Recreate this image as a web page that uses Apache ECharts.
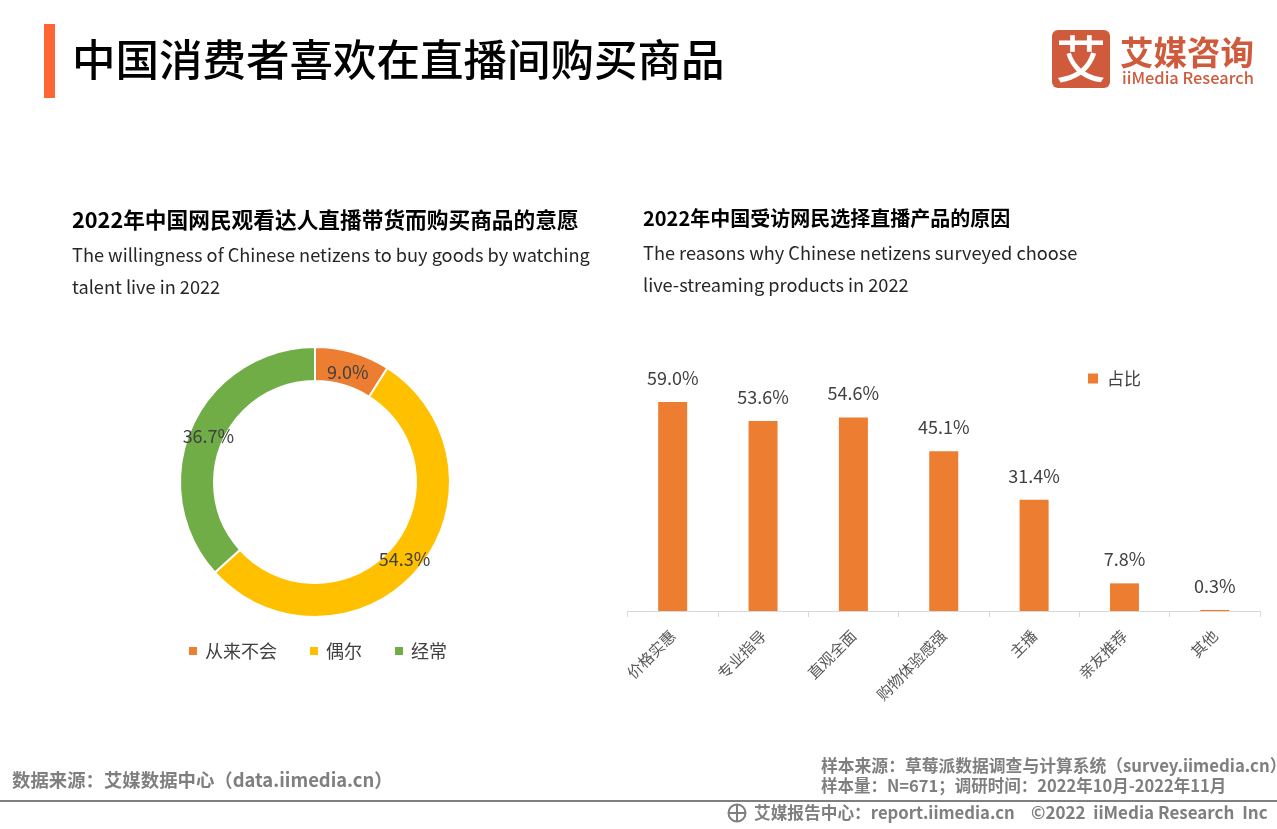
<!DOCTYPE html>
<html><head><meta charset="utf-8">
<style>html,body{margin:0;padding:0;background:#fff}#c{width:1277px;height:829px}</style>
<script src="https://cdn.jsdelivr.net/npm/echarts@6/dist/echarts.min.js"></script>
</head><body><div id="c"></div>
<script>
const pieNames = ['从来不会','偶尔','经常'];
const pieValues = [9.0,54.3,36.7];
const pieColors = ['#ED7D31','#FFC000','#70AD47'];
const barCategories = ['价格实惠','专业指导','直观全面','购物体验感强','主播','亲友推荐','其他'];
const barValues = [59.0,53.6,54.6,45.1,31.4,7.8,0.3];
const labelShift = [[-1,6],[-3,-1],[4,3]];
const F = '"Noto Sans CJK SC","Noto Sans",sans-serif';
const T = (x,y,text,size,color,weight,align) => ({type:'text',x,y,style:{text,font:(weight||'normal')+' '+size+'px '+F,fill:color||'#000',textAlign:align||'left',textVerticalAlign:'middle'}});
const chart = echarts.init(document.getElementById('c'),null,{renderer:'canvas'});
chart.setOption({
 animation:false,
 backgroundColor:'#fff',
 legend:[
  {data:pieNames,left:182,top:637,itemWidth:10,itemHeight:10,itemGap:31,icon:'rect',textStyle:{fontFamily:F,fontSize:18,color:'#404040',padding:[0,0,0,2]}},
  {data:['占比'],left:1083,top:365,itemWidth:10,itemHeight:10,icon:'rect',textStyle:{fontFamily:F,fontSize:17,color:'#404040',padding:[0,0,0,4]}}
 ],
 grid:{left:627.5,right:17,top:363,height:248,containLabel:false},
 xAxis:{type:'category',data:barCategories,
  axisLine:{lineStyle:{color:'#D9D9D9',width:1}},
  axisTick:{show:true,length:6,lineStyle:{color:'#D9D9D9'},alignWithLabel:false},
  axisLabel:{rotate:45,interval:0,margin:22,fontFamily:F,fontSize:15.2,color:'#595959'}},
 yAxis:{type:'value',min:0,max:70,show:false},
 series:[
  {type:'pie',center:[315,482],radius:[101,135],startAngle:90,clockwise:true,
   itemStyle:{borderColor:'#fff',borderWidth:2},
   label:{position:'inside',formatter:p=>p.value.toFixed(1)+'%',fontFamily:F,fontSize:18,color:'#404040'},
   labelLine:{show:false},
   labelLayout:p=>({dx:labelShift[p.dataIndex][0],dy:labelShift[p.dataIndex][1]}),
   emphasis:{disabled:true},
   data:pieNames.map((n,i)=>({name:n,value:pieValues[i],itemStyle:{color:pieColors[i]}}))},
  {type:'bar',name:'占比',data:barValues,barWidth:29,itemStyle:{color:'#ED7D31'},
   label:{show:true,position:'top',distance:15,formatter:p=>p.value.toFixed(1)+'%',fontFamily:F,fontSize:18,color:'#404040'}}
 ],
 graphic:[
  {type:'rect',shape:{x:44,y:24,width:11,height:74},style:{fill:'#FF6633'}},
  T(72,59,'中国消费者喜欢在直播间购买商品',43.5,'#000','500'),
  {type:'rect',shape:{x:1052,y:30,width:58,height:58,r:6},style:{fill:'#CF5B3C'}},
  T(1081,59,'艾',50,'#fff','500','center'),
  T(1120,52,'艾媒咨询',33.5,'#CF5B3C','bold'),
  T(1122,78,'iiMedia Research',16.4,'#CF5B3C','500'),
  T(72,220,'2022年中国网民观看达人直播带货而购买商品的意愿',21.7,'#000','bold'),
  T(72,255,'The willingness of Chinese netizens to buy goods by watching',18.2,'#262626'),
  T(72,287,'talent live in 2022',18.2,'#262626'),
  T(643,218,'2022年中国受访网民选择直播产品的原因',20,'#000','bold'),
  T(643,253,'The reasons why Chinese netizens surveyed choose',18.2,'#262626'),
  T(643,285,'live-streaming products in 2022',18.2,'#262626'),
  T(12,780,'数据来源：艾媒数据中心（data.iimedia.cn）',18.4,'#7F7F7F','bold'),
  T(821,766,'样本来源：草莓派数据调查与计算系统（survey.iimedia.cn）',16.8,'#7F7F7F','bold'),
  T(821,786,'样本量：N=671；调研时间：2022年10月-2022年11月',16.5,'#7F7F7F','bold'),
  {type:'rect',shape:{x:0,y:800,width:1277,height:2},style:{fill:'#7F7F7F'}},
  {type:'circle',shape:{cx:737,cy:813,r:8.5},style:{fill:'none',stroke:'#7F7F7F',lineWidth:2}},
  {type:'line',shape:{x1:729,y1:813,x2:745,y2:813},style:{stroke:'#7F7F7F',lineWidth:2}},
  {type:'line',shape:{x1:737,y1:805,x2:737,y2:821},style:{stroke:'#7F7F7F',lineWidth:2}},
  T(754,813,'艾媒报告中心：report.iimedia.cn',16.7,'#7F7F7F','bold'),
  T(1031,813,'©2022  iiMedia Research  Inc',17,'#7F7F7F','bold')
 ]
});
</script></body></html>
